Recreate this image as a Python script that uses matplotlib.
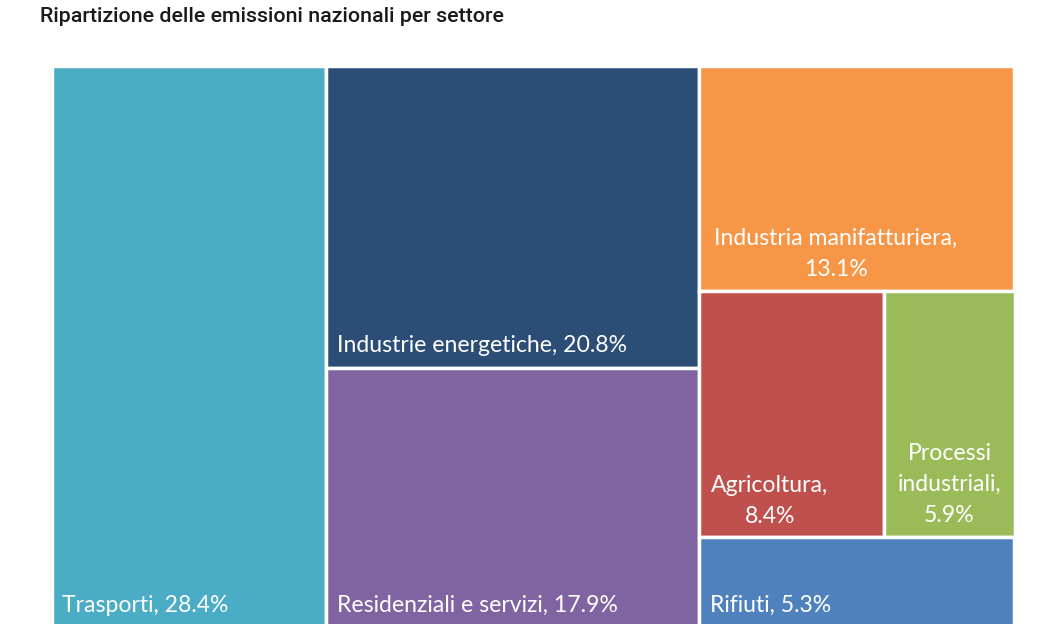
import matplotlib
matplotlib.use('Agg')
import matplotlib.pyplot as plt
from matplotlib.patches import Rectangle

# values in %
sectors = ['Trasporti', 'Industrie energetiche', 'Residenziali e servizi',
           'Industria manifatturiera', 'Agricoltura', 'Processi industriali', 'Rifiuti']
values = [28.4, 20.8, 17.9, 13.1, 8.4, 5.9, 5.3]
labels = ['Trasporti, 28.4%', 'Industrie energetiche, 20.8%', 'Residenziali e servizi, 17.9%',
          'Industria manifatturiera,\n13.1%', 'Agricoltura,\n8.4%', 'Processi\nindustriali,\n5.9%',
          'Rifiuti, 5.3%']
colors = ['#4BACC6', '#2C4D75', '#8064A2', '#F79646', '#C0504D', '#9BBB59', '#4F81BD']

W = 1062
H = 624

fig = plt.figure(figsize=(W / 100, H / 100), dpi=100)
fig.text(40 / W, 1 - 16 / H, 'Ripartizione delle emissioni nazionali per settore',
         fontsize=15.4, family='Roboto', fontweight='medium', color='#1a1a1a', va='center')

# bottom of the treemap is cut off by the picture
ax = fig.add_axes([51.5 / W, 1 - 628 / H, 963 / W, 562 / H])
total = sum(values)
ax.set_xlim(0, total)
ax.set_ylim(0, 1)
ax.axis('off')

# treemap layout: three columns, top to bottom
col2 = values[1] + values[2]
col3 = values[3] + values[4] + values[5] + values[6]
row = values[4] + values[5]
x2 = values[0]
x3 = values[0] + col2
y_man = 1 - values[3] / col3
y_rif = values[6] / col3
rects = [
    (0, 0, values[0], 1),
    (x2, 1 - values[1] / col2, col2, values[1] / col2),
    (x2, 0, col2, values[2] / col2),
    (x3, y_man, col3, values[3] / col3),
    (x3, y_rif, col3 * values[4] / row, y_man - y_rif),
    (x3 + col3 * values[4] / row, y_rif, col3 * values[5] / row, y_man - y_rif),
    (x3, 0, col3, y_rif),
]

# label anchor: ha, x offset px (from left or centre), y offset px from the bottom of the cell
anchors = [('left', 11, 12), ('left', 11, 12), ('left', 11, 12),
           ('center', -21, 11), ('center', -22, 10), ('center', 0, 11), ('left', 11, 12)]

px = 72 / 100
for r, c, lab, a in zip(rects, colors, labels, anchors):
    ax.add_patch(Rectangle((r[0], r[1]), r[2], r[3], facecolor=c, edgecolor='white', linewidth=2.5))
    ha, dx, dy = a
    xa = r[0] if ha == 'left' else r[0] + r[2] / 2
    ax.annotate(lab, (xa, r[1]), xytext=(dx * px, dy * px), textcoords='offset points',
                ha=ha, va='bottom', multialignment='center', color='white',
                fontsize=16.6, family='Lato', linespacing=1.6)

fig.savefig('out.png', dpi=100)
